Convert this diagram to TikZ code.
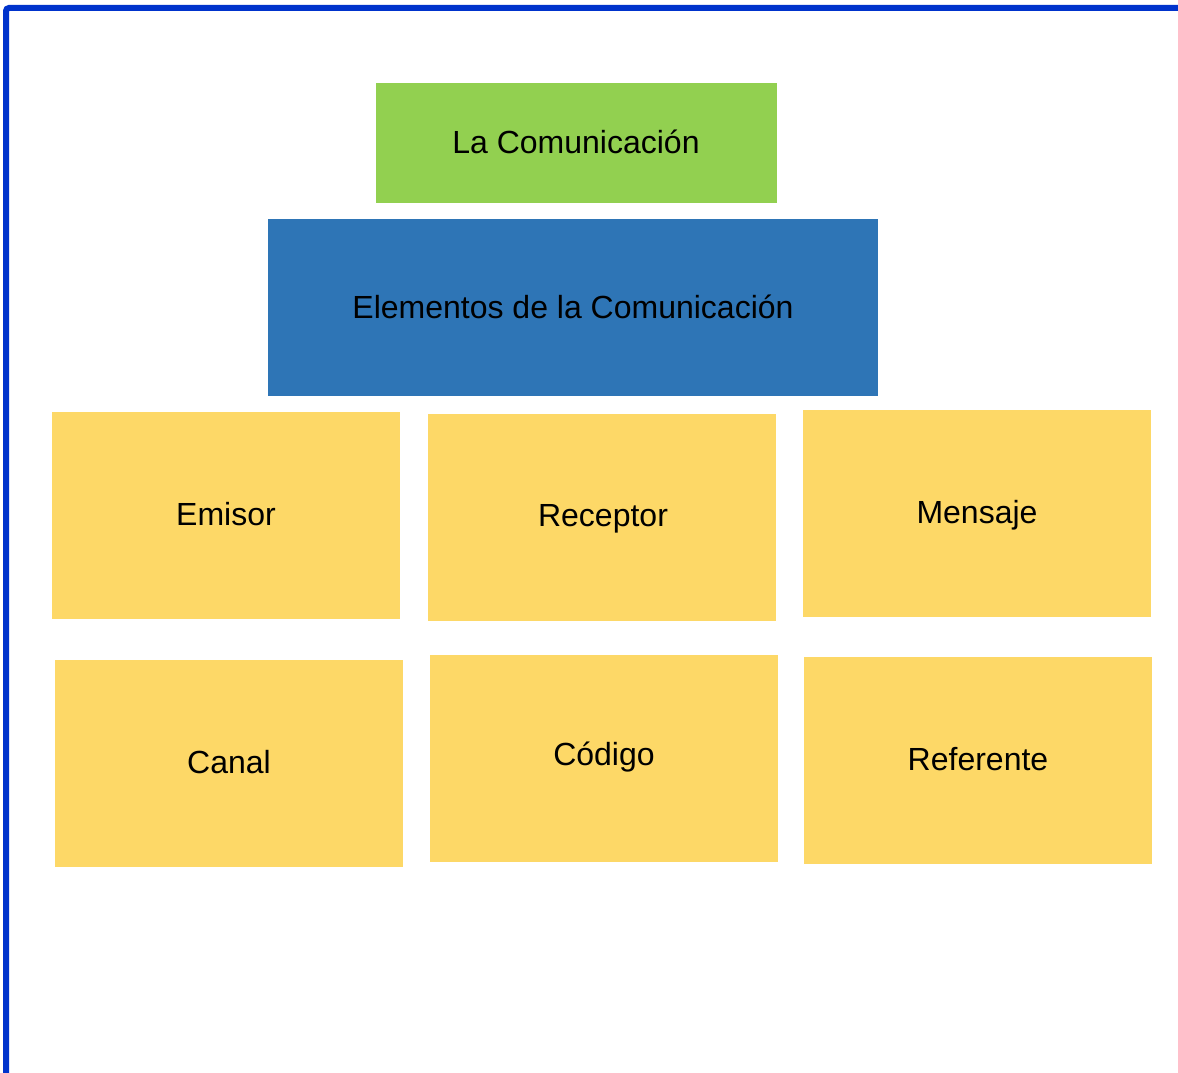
\documentclass[tikz,border=0pt]{standalone}
\usepackage{fontspec}
\setmainfont{Liberation Sans}
\definecolor{frameblue}{HTML}{0033CC}
\definecolor{topgreen}{HTML}{92D050}
\definecolor{midblue}{HTML}{2E75B6}
\definecolor{cardyellow}{HTML}{FDD867}
\begin{document}
\begin{tikzpicture}[x=1pt,y=-1pt,
  lbl/.style={font=\fontsize{32}{38}\selectfont, text=black}]
\useasboundingbox (0,0) rectangle (1178,1073);
\fill[white] (0,0) rectangle (1178,1073);
\draw[frameblue, line width=6pt, rounded corners=3pt] (6,1080) -- (6,8) -- (1185,8);
% boxes
\fill[topgreen] (376,83) rectangle (777,203);
\node[lbl] (lacom) at (576,142) {La Comunicación};
\fill[midblue] (268,219) rectangle (878,396);
\node[lbl] (elem) at (573,307) {Elementos de la Comunicación};
\fill[cardyellow] (52,412) rectangle (400,619);
\node[lbl] (emisor) at (226,514) {Emisor};
\fill[cardyellow] (428,414) rectangle (776,621);
\node[lbl] (receptor) at (603,519) {Receptor};
\fill[cardyellow] (803,410) rectangle (1151,617);
\node[lbl] (mensaje) at (977,515) {Mensaje};
\fill[cardyellow] (55,660) rectangle (403,867);
\node[lbl] (canal) at (229,762) {Canal};
\fill[cardyellow] (430,655) rectangle (778,862);
\node[lbl] (codigo) at (604,757) {Código};
\fill[cardyellow] (804,657) rectangle (1152,864);
\node[lbl] (referente) at (978,759) {Referente};
\end{tikzpicture}
\end{document}
